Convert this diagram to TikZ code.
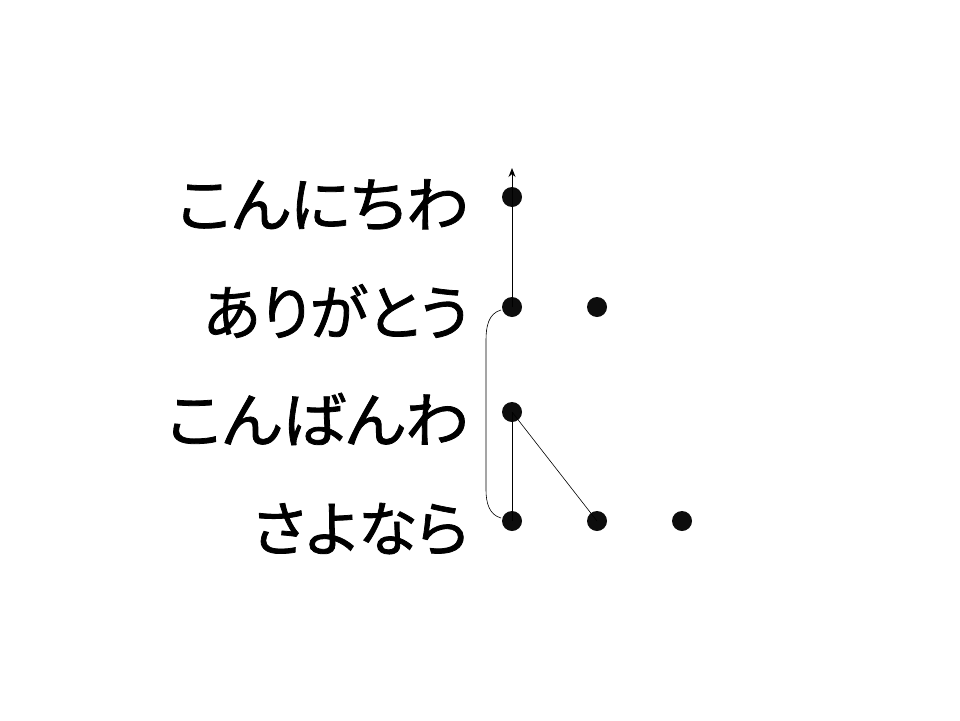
\documentclass[tikz,border=0pt]{standalone}
\usepackage{fontspec}
\newfontfamily\jpfont[FakeBold=1.3,RawFeature={+palt}]{Noto Sans CJK JP}
\usetikzlibrary{arrows.meta}
\begin{document}
\begin{tikzpicture}[x=1pt,y=-1pt,
  dot/.style={circle,fill=black!95,inner sep=0pt,minimum size=20pt},
  lbl/.style={anchor=east,inner sep=0pt,font=\jpfont\fontsize{60}{66}\selectfont},
  conn/.style={line width=1pt},
  thin/.style={line width=0.6pt}]
\useasboundingbox (0,0) rectangle (960,720);
\node[lbl] (t1) at (469,205) {\scalebox{1.045}[1]{こんにちわ}};
\node[lbl] (t2) at (469,311) {\scalebox{0.985}[1]{ありがとう}};
\node[lbl] (t3) at (469,419) {\scalebox{1.06}[1]{こんばんわ}};
\node[lbl] (t4) at (469,529) {さよなら};
\node[dot] (a1) at (512,197) {};
\node[dot] (b1) at (512,307) {};
\node[dot] (b2) at (597,307) {};
\node[dot] (c1) at (512,412) {};
\node[dot] (d1) at (512,521) {};
\node[dot] (d2) at (597,521) {};
\node[dot] (d3) at (682,521) {};
\coordinate (top) at (512,168);
\coordinate (ct) at (486,340);
\coordinate (cb) at (486,490);
\draw[conn,-{Stealth[length=9pt,width=7pt]}] (b1.center) -- (top);
\draw[conn] (c1.center) -- (d1.center);
\draw[thin] (c1.center) -- (d2.center);
\path (b1.center) ++(-11,3) coordinate (bs);
\path (d1.center) ++(-11,-3) coordinate (ds);
\draw[thin] (bs) to[out=195,in=90] (ct) -- (cb) to[out=-90,in=165] (ds);
\end{tikzpicture}
\end{document}
